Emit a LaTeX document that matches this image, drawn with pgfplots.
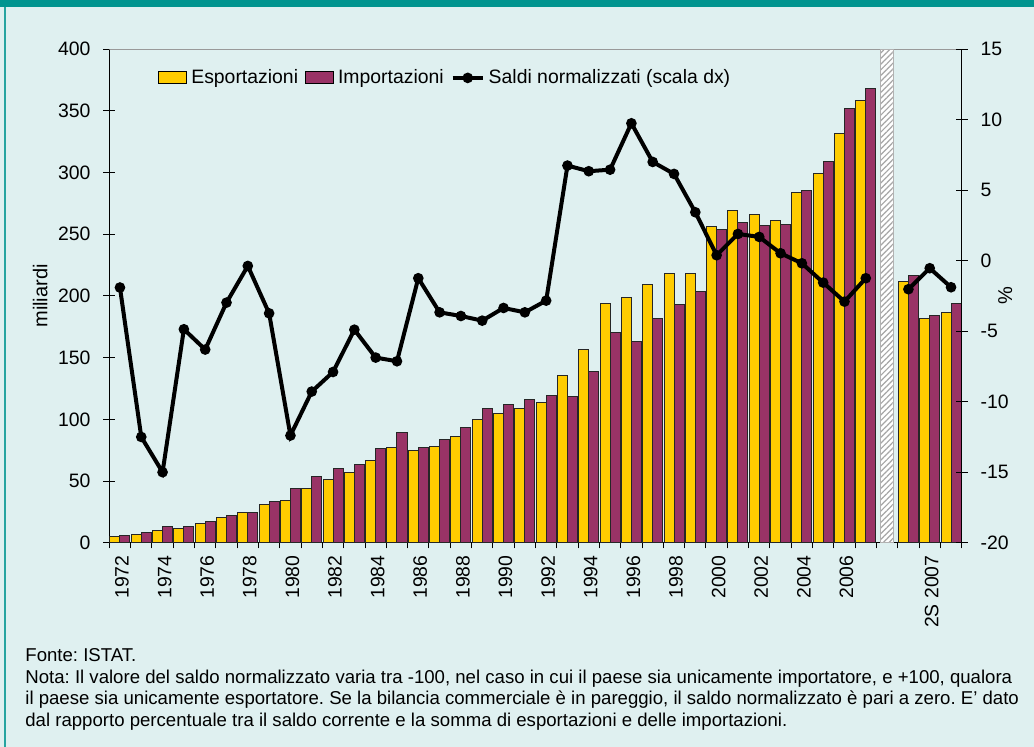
\documentclass[border=0pt]{standalone}
\usepackage{fontspec}
\setmainfont{Liberation Sans}
\usepackage{pgfplots}
\pgfplotsset{compat=1.18}
\usepackage{pgfplotstable}
\usetikzlibrary{patterns.meta}
\frenchspacing

\definecolor{bgcol}{RGB}{223,240,240}
\definecolor{tealband}{RGB}{0,148,143}
\definecolor{expcol}{RGB}{255,204,0}
\definecolor{impcol}{RGB}{153,51,102}

\newcommand\tfont{\fontsize{9.7pt}{11pt}\selectfont}
\newcommand\ffont{\fontsize{9.3pt}{10.8pt}\selectfont}

% categorie: 0..35 = 1972..2007, 36 = separatore, 37..39 = semestri
\pgfplotstableread{
x   exp    imp
0   5.4    6.0
1   6.5    8.4
2   10.0   13.5
3   11.9   13.0
4   15.4   17.3
5   20.6   21.9
6   24.4   24.7
7   31.1   33.5
8   34.6   44.3
9   44.3   53.5
10  51.4   60.0
11  57.0   63.0
12  66.8   76.5
13  77.3   89.2
14  74.9   77.0
15  77.8   83.8
16  86.2   93.0
17  99.5   108.4
18  105.1  112.2
19  108.4  116.3
20  113.3  119.7
21  135.4  118.4
22  157.0  138.4
23  194.3  170.8
24  199.0  163.5
25  209.2  181.9
26  218.6  192.7
27  218.6  203.5
28  256.2  254.3
29  269.7  259.7
30  265.7  256.8
31  260.8  257.6
32  284.3  285.4
33  299.7  309.2
34  331.9  352.2
35  358.6  368.1
37  211.4  216.8
38  181.6  183.8
39  187.0  194.3
}\bars

\pgfplotstableread{
x   s
0   -1.90
1   -12.50
2   -15.00
3   -4.86
4   -6.30
5   -2.97
6   -0.37
7   -3.73
8   -12.40
9   -9.28
10  -7.89
11  -4.89
12  -6.87
13  -7.13
14  -1.24
15  -3.66
16  -3.92
17  -4.25
18  -3.35
19  -3.66
20  -2.83
21  6.75
22  6.35
23  6.46
24  9.75
25  7.01
26  6.16
27  3.44
28  0.39
29  1.90
30  1.69
31  0.53
32  -0.18
33  -1.55
34  -2.90
35  -1.24
}\saldiA

\pgfplotstableread{
x   s
37  -2.02
38  -0.53
39  -1.88
}\saldiB

\pgfplotsset{
  boxlegend/.style={legend image code/.code={\draw[##1] (0pt,-3pt) rectangle (14pt,3pt);}},
  linelegend/.style={legend image code/.code={\draw[mark repeat=2,mark phase=2,##1] plot coordinates {(0pt,0pt) (7.5pt,0pt) (15pt,0pt)};}},
  common/.style={
    at={(54.65pt,102.15pt)}, anchor=south west,
    scale only axis, width=426.2pt, height=246.7pt,
    xmin=-0.5, xmax=39.5,
    axis line style={-, black, line width=0.6pt},
    tick style={black, line width=0.5pt},
    tick align=center,
    major tick length=5.8pt,
    /pgf/number format/assume math mode=true,
    tick label style={font=\tfont},
    label style={font=\tfont},
  },
}

\begin{document}
\begin{tikzpicture}[x=1pt,y=1pt]
\fill[bgcol] (0,0) rectangle (517,373.5);
\fill[tealband] (0,370) rectangle (517,373.5);
\fill[tealband!85] (2,0) rectangle (3,370);

\begin{axis}[common,
  ymin=0, ymax=400,
  axis x line*=bottom, axis y line*=left,
  ytick={0,50,...,400},
  yticklabel style={xshift=-3pt},
  xtick={0,2,...,38},
  xticklabels={1972,1974,1976,1978,1980,1982,1984,1986,1988,1990,1992,1994,1996,1998,2000,2002,2004,2006,,2S 2007},
  xticklabel style={rotate=90, anchor=east, yshift=-1pt},
  major x tick style={draw=none},
  minor xtick={-0.5,0.5,...,39.5},
  minor tick length=2.8pt,
  minor x tick style={black, line width=0.5pt, yshift=-1.4pt},
  ylabel={miliardi},
  every axis y label/.style={at={(axis description cs:-0.081,0.5)}, rotate=90, anchor=center},
]
\draw[gray!80, line width=0.6pt] (rel axis cs:0,1) -- (rel axis cs:1,1);
\addplot[ybar, bar width=0.47, bar shift=-0.235, fill=expcol, draw=black!85, line width=0.5pt]
  table[x=x, y=exp] {\bars};
\addplot[ybar, bar width=0.47, bar shift=0.235, fill=impcol, draw=black!85, line width=0.5pt]
  table[x=x, y=imp] {\bars};
\addplot[ybar, bar width=0.63, bar shift=0, fill=white, draw=gray!60, line width=0.5pt,
  postaction={pattern={Lines[angle=45,distance=2pt,line width=0.6pt]}, pattern color=gray!70}]
  coordinates {(36,400)};
\end{axis}

\begin{axis}[common,
  ymin=-20, ymax=15,
  axis x line=none, axis y line*=right,
  ytick={-20,-15,...,15},
  yticklabel style={xshift=3pt},
  ylabel={\%},
  every axis y label/.style={at={(axis description cs:1.051,0.5)}, rotate=90, anchor=center},
  legend style={at={(0.050,0.942)}, anchor=west, draw=none, fill=none,
    legend columns=-1, font=\tfont,
    /tikz/every even column/.append style={column sep=1.5pt}},
]
\addlegendimage{boxlegend, fill=expcol, draw=black, line width=0.5pt}
\addlegendentry{Esportazioni}
\addlegendimage{boxlegend, fill=impcol, draw=black, line width=0.5pt}
\addlegendentry{Importazioni}
\addplot[linelegend, black, line width=2pt, mark=*, mark size=1.6pt, mark options={solid}]
  table[x=x, y=s] {\saldiA};
\addlegendentry{Saldi normalizzati (scala dx)}
\addplot[black, line width=2pt, mark=*, mark size=1.6pt, mark options={solid}, forget plot]
  table[x=x, y=s] {\saldiB};
\end{axis}

\node[anchor=base west, font=\ffont, inner sep=0] at (12.5,42.65) {Fonte: ISTAT.};
\node[anchor=base west, font=\ffont, inner sep=0] at (12.5,31.85) {Nota: Il valore del saldo normalizzato varia tra -100, nel caso in cui il paese sia unicamente importatore, e +100, qualora};
\node[anchor=base west, font=\ffont, inner sep=0] at (12.5,21.0) {il paese sia unicamente esportatore. Se la bilancia commerciale è in pareggio, il saldo normalizzato è pari a zero. E’ dato};
\node[anchor=base west, font=\ffont, inner sep=0] at (12.5,10.15) {dal rapporto percentuale tra il saldo corrente e la somma di esportazioni e delle importazioni.};

\pgfresetboundingbox
\path (0,0) rectangle (517,373.5);
\end{tikzpicture}
\end{document}
